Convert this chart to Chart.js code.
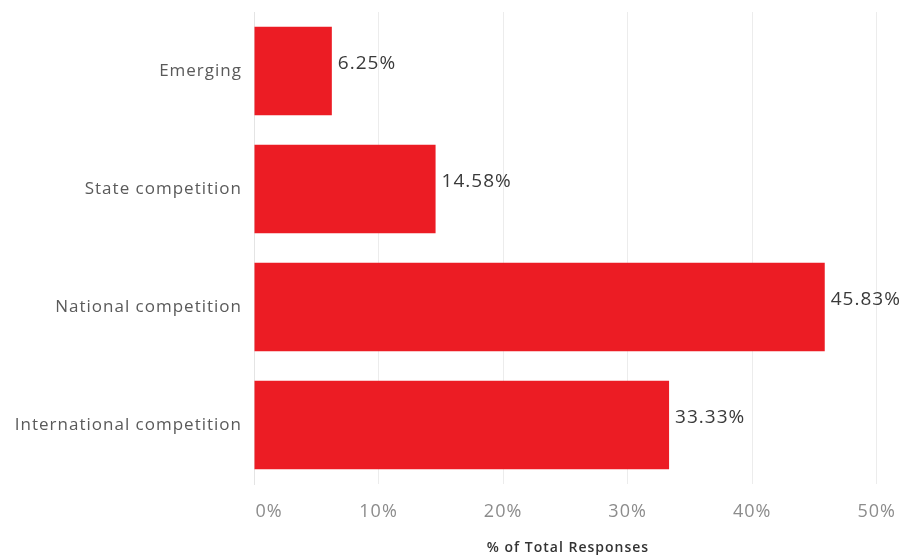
<!DOCTYPE html>
<html lang="en">
<head>
  <meta charset="UTF-8">
  <title>% of Total Responses</title>
  <script src="https://cdn.jsdelivr.net/npm/chart.js"></script>
  <style>
    body {
      margin: 0;
      background: #ffffff;
    }
    #wrap {
      width: 924px;
      height: 558px;
    }
  </style>
</head>
<body>

  <div id="wrap"><canvas id="levelChart" width="924" height="558"></canvas></div>

  <script>
    // Competition level vs share of responses
    const levels = ['Emerging', 'State competition', 'National competition', 'International competition'];
    const shares = [6.25, 14.58, 45.83, 33.33];
    const xTicks = [0, 10, 20, 30, 40, 50];
    const xTitle = '% of Total Responses';

    const FONT = "'Open Sans', sans-serif";

    // Slightly wider text, and nudge the "0%" label inside the plot
    const textTweaks = {
      id: 'textTweaks',
      beforeDraw(chart) {
        chart.ctx.letterSpacing = '1px';
        const items = chart.scales.x.getLabelItems();
        if (items.length && !items[0]._nudged) {
          items[0].options.translation[0] += 15;
          items[0]._nudged = true;
        }
      }
    };

    // Writes the percentage just past the end of each bar, plus the axis title
    const barValues = {
      id: 'barValues',
      afterDatasetsDraw(chart) {
        const ctx = chart.ctx;
        const meta = chart.getDatasetMeta(0);
        ctx.save();
        ctx.font = '19px ' + FONT;
        ctx.fillStyle = '#3a3a3a';
        ctx.textAlign = 'left';
        ctx.textBaseline = 'middle';
        meta.data.forEach((bar, i) => {
          ctx.fillText(shares[i].toFixed(2) + '%', bar.x + 6, bar.y - 7);
        });

        const xs = chart.scales.x;
        ctx.font = '600 14px ' + FONT;
        ctx.fillStyle = '#333333';
        ctx.textAlign = 'center';
        ctx.fillText(xTitle, xs.left + 314, chart.height - 10);
        ctx.restore();
      }
    };

    const ctx = document.getElementById('levelChart').getContext('2d');
    const levelChart = new Chart(ctx, {
      type: 'bar',
      data: {
        labels: levels,
        datasets: [{
          data: shares,
          backgroundColor: '#ec1c24',
          categoryPercentage: 0.75,
          barPercentage: 1.0
        }]
      },
      options: {
        indexAxis: 'y',
        responsive: false,
        animation: false,
        layout: { padding: { top: 12, right: 0, bottom: 0, left: 0 } },
        plugins: {
          legend: { display: false },
          tooltip: { enabled: false }
        },
        scales: {
          x: {
            min: 0,
            max: 53.8,
            afterBuildTicks: scale => {
              scale.ticks = xTicks.map(v => ({ value: v }));
            },
            afterFit: scale => { scale.height = 74; },
            grid: {
              color: '#ececec',
              drawTicks: false
            },
            border: { display: false },
            ticks: {
              padding: 17,
              color: '#8c8c8c',
              font: { family: FONT, size: 18 },
              callback: v => v + '%'
            }
          },
          y: {
            afterFit: scale => {
              scale.width = 254;
              scale.paddingTop = 0;
              scale.paddingBottom = 0;
            },
            grid: { display: false },
            border: { display: true, color: '#e4e4e4' },
            ticks: {
              padding: 4,
              color: '#5a5a5a',
              font: { family: FONT, size: 17 }
            }
          }
        }
      },
      plugins: [textTweaks, barValues]
    });
  </script>

</body>
</html>
